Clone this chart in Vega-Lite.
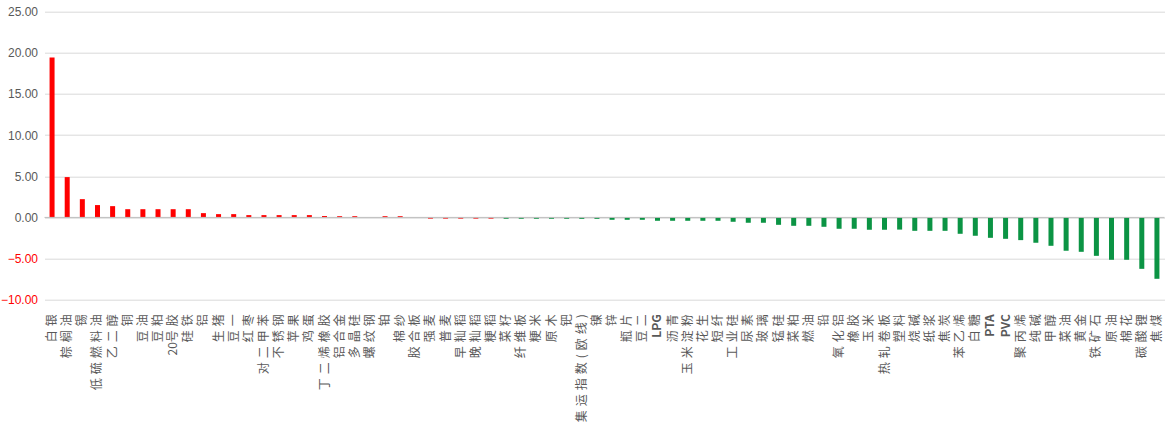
{
  "$schema": "https://vega.github.io/schema/vega-lite/v6.json",
  "width": 1120,
  "height": 288,
  "autosize": {"type": "none"},
  "padding": {"left": 44.5, "top": 11.7, "right": 4.5, "bottom": 125.3},
  "background": "#ffffff",
  "config": {"view": {"stroke": null}},
  "data": {
    "values": [
      {"name": "白银", "value": 19.44},
      {"name": "棕榈油", "value": 4.9},
      {"name": "锡", "value": 2.22},
      {"name": "低硫燃料油", "value": 1.5},
      {"name": "乙二醇", "value": 1.37},
      {"name": "铜", "value": 1.0},
      {"name": "豆油", "value": 1.0},
      {"name": "豆粕", "value": 1.0},
      {"name": "20号胶", "value": 1.0},
      {"name": "硅铁", "value": 1.0},
      {"name": "铝", "value": 0.52},
      {"name": "生猪", "value": 0.4},
      {"name": "豆一", "value": 0.4},
      {"name": "红枣", "value": 0.28},
      {"name": "对二甲苯", "value": 0.28},
      {"name": "不锈钢", "value": 0.28},
      {"name": "苹果", "value": 0.28},
      {"name": "鸡蛋", "value": 0.28},
      {"name": "丁二烯橡胶", "value": 0.17},
      {"name": "铝合金", "value": 0.15},
      {"name": "多晶硅", "value": 0.15},
      {"name": "螺纹钢", "value": 0},
      {"name": "铂", "value": 0.15},
      {"name": "棉纱", "value": 0.15},
      {"name": "胶合板", "value": 0},
      {"name": "强麦", "value": -0.14},
      {"name": "普麦", "value": -0.14},
      {"name": "早籼稻", "value": -0.14},
      {"name": "晚籼稻", "value": -0.14},
      {"name": "粳稻", "value": -0.14},
      {"name": "菜籽", "value": -0.16},
      {"name": "纤维板", "value": -0.16},
      {"name": "粳米", "value": -0.16},
      {"name": "原木", "value": -0.16},
      {"name": "钯", "value": -0.16},
      {"name": "集运指数(欧线)", "value": -0.17},
      {"name": "镍", "value": -0.17},
      {"name": "锌", "value": -0.29},
      {"name": "瓶片", "value": -0.29},
      {"name": "豆二", "value": -0.29},
      {"name": "LPG", "value": -0.41},
      {"name": "沥青", "value": -0.41},
      {"name": "玉米淀粉", "value": -0.41},
      {"name": "花生", "value": -0.41},
      {"name": "短纤", "value": -0.41},
      {"name": "工业硅", "value": -0.53},
      {"name": "尿素", "value": -0.65},
      {"name": "玻璃", "value": -0.65},
      {"name": "锰硅", "value": -0.9},
      {"name": "菜粕", "value": -1.02},
      {"name": "燃油", "value": -1.02},
      {"name": "铅", "value": -1.14},
      {"name": "氧化铝", "value": -1.38},
      {"name": "橡胶", "value": -1.38},
      {"name": "玉米", "value": -1.5},
      {"name": "热轧卷板", "value": -1.5},
      {"name": "塑料", "value": -1.48},
      {"name": "烧碱", "value": -1.63},
      {"name": "纸浆", "value": -1.63},
      {"name": "焦炭", "value": -1.63},
      {"name": "苯乙烯", "value": -1.99},
      {"name": "白糖", "value": -2.23},
      {"name": "PTA", "value": -2.48},
      {"name": "PVC", "value": -2.6},
      {"name": "聚丙烯", "value": -2.76},
      {"name": "纯碱", "value": -3.08},
      {"name": "甲醇", "value": -3.45},
      {"name": "菜油", "value": -4.06},
      {"name": "黄金", "value": -4.18},
      {"name": "铁矿石", "value": -4.67},
      {"name": "原油", "value": -5.15},
      {"name": "棉花", "value": -5.15},
      {"name": "碳酸锂", "value": -6.25},
      {"name": "焦煤", "value": -7.46}
    ]
  },
  "layer": [
    {
      "mark": {"type": "bar", "width": 5},
      "encoding": {
        "x": {
          "field": "name",
          "type": "nominal",
          "sort": null,
          "scale": {"paddingInner": 0.67, "paddingOuter": 0.335},
          "title": null,
          "axis": {
            "orient": "bottom",
            "domain": false,
            "ticks": false,
            "grid": false,
            "labelAngle": 270,
            "labelAlign": "right",
            "labelBaseline": "middle",
            "labelPadding": 14,
            "labelFont": "Noto Sans CJK SC",
            "labelFontSize": 12,
            "labelColor": "#595959",
            "labelOverlap": false,
            "labelLimit": 200,
            "labelExpr": "replace(datum.label, /([^A-Za-z0-9])(?=.)/g, '$1\u2004')",
            "labelFontWeight": {"condition": {"test": "test(/^[A-Z]+$/, datum.label)", "value": "bold"}, "value": "normal"}
          }
        },
        "y": {
          "field": "value",
          "type": "quantitative",
          "scale": {"domain": [-10, 25], "nice": false},
          "title": null,
          "axis": {
            "values": [-10, -5, 0, 5, 10, 15, 20, 25],
            "format": ".2f",
            "domain": false,
            "ticks": false,
            "labelPadding": 7,
            "labelFont": "Liberation Sans",
            "labelFontSize": 12,
            "labelColor": {"condition": {"test": "datum.value < 0", "value": "#FF0000"}, "value": "#595959"},
            "gridColor": "#D9D9D9",
            "gridWidth": 1
          }
        },
        "color": {
          "condition": {"test": "datum.value > -0.15", "value": "#FF0000"},
          "value": "#0B9444"
        }
      }
    },
    {
      "data": {"values": [{}]},
      "mark": {"type": "rule", "color": "#BFBFBF", "strokeWidth": 1},
      "encoding": {"y": {"datum": 0}}
    }
  ]
}
